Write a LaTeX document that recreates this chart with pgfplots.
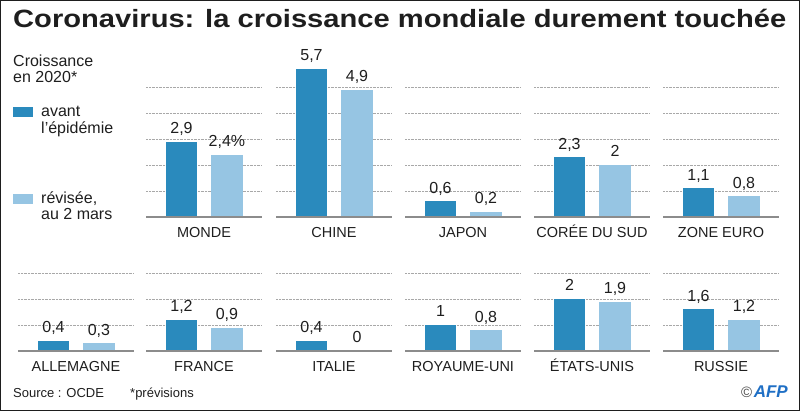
\documentclass[border=0pt]{standalone}
\usepackage{fontspec}
\setmainfont{Liberation Sans}
\usepackage{pgfplots}
\pgfplotsset{compat=1.18}
\definecolor{dark}{HTML}{2A8ABD}
\definecolor{light}{HTML}{96C5E3}
\definecolor{gridc}{HTML}{A8A8A8}
\definecolor{basec}{HTML}{8C8C8C}
\definecolor{txt}{HTML}{1E1E1E}
\definecolor{afp}{HTML}{1F6FC5}

\pgfplotsset{
  panel/.style={
    scale only axis, width=116pt,
    xmin=0.22, xmax=2.77, ymin=0,
    axis line style={draw=none},
    major tick length=0pt,
    xtick=\empty, ytick={1,2,3,4,5}, yticklabels={},
    ymajorgrids, grid style={gridc, densely dotted, line width=0.6pt},
    clip=false,
    anchor=south west,
  },
  bars/.style={
    ybar, bar width=31.5pt, bar shift=0pt, draw=none, fill=#1,
    point meta=explicit symbolic,
    nodes near coords,
    every node near coord/.append style={anchor=base, yshift=8pt, inner sep=0pt,
      font=\fontsize{16}{16}\selectfont, text=txt},
  },
}

% #1 x-left, #2 baseline (tikz y), #3 ymax, #4 height, #5 label,
% #6 dark value, #7 dark text, #8 light value, #9 light text
\newcommand\panel[9]{%
  \begin{axis}[panel, at={(#1pt,#2pt)}, ymax=#3, height=#4pt]
    \addplot[bars=dark] coordinates {(1,#6) [#7]};
    \addplot[bars=light] coordinates {(2,#8) [#9]};
    \draw[basec, line width=1.6pt] (rel axis cs:0,0) -- (rel axis cs:1,0);
    \node[font=\fontsize{14.5}{14.5}\selectfont, text=txt, anchor=base] at ([yshift=-21pt]rel axis cs:0.5,0) {#5};
  \end{axis}%
}

\begin{document}
\begin{tikzpicture}[x=1pt,y=1pt]
  \path[use as bounding box] (0,0) rectangle (800,411);
  \draw[txt, line width=1.4pt] (0.7,0.7) rectangle (799.3,410.3);

  % title
  \node[anchor=base west, inner sep=0pt, text=txt] at (13,383.5)
    {\scalebox{1.165}[1]{\fontsize{25}{25}\selectfont\bfseries Coronavirus: la croissance mondiale durement touchée}};

  % legend
  \node[anchor=base west, inner sep=0pt, text=txt, font=\fontsize{16}{16}\selectfont] at (13,344) {Croissance};
  \node[anchor=base west, inner sep=0pt, text=txt, font=\fontsize{16}{16}\selectfont] at (13,328.5) {en 2020*};
  \fill[dark] (12.7,293.7) rectangle (33.3,303.7);
  \node[anchor=base west, inner sep=0pt, text=txt, font=\fontsize{16}{16}\selectfont] at (41,294.3) {avant};
  \node[anchor=base west, inner sep=0pt, text=txt, font=\fontsize{16}{16}\selectfont] at (41,277.7) {l'épidémie};
  \fill[light] (12.7,207) rectangle (33.3,216.7);
  \node[anchor=base west, inner sep=0pt, text=txt, font=\fontsize{16}{16}\selectfont] at (41,207) {révisée,};
  \node[anchor=base west, inner sep=0pt, text=txt, font=\fontsize{16}{16}\selectfont] at (41,191) {au 2 mars};

  % row 1
  \panel{146}{194}{6}{156}{MONDE}{2.9}{2,9}{2.4}{2,4\%}
  \panel{276}{194}{6}{156}{CHINE}{5.7}{5,7}{4.9}{4,9}
  \panel{405}{194}{6}{156}{JAPON}{0.6}{0,6}{0.2}{0,2}
  \panel{534}{194}{6}{156}{CORÉE DU SUD}{2.3}{2,3}{2}{2}
  \panel{663}{194}{6}{156}{ZONE EURO}{1.1}{1,1}{0.8}{0,8}
  % row 2
  \panel{18}{60}{3}{78}{ALLEMAGNE}{0.4}{0,4}{0.3}{0,3}
  \panel{146}{60}{3}{78}{FRANCE}{1.2}{1,2}{0.9}{0,9}
  \panel{276}{60}{3}{78}{ITALIE}{0.4}{0,4}{0}{0}
  \panel{405}{60}{3}{78}{ROYAUME-UNI}{1}{1}{0.8}{0,8}
  \panel{534}{60}{3}{78}{ÉTATS-UNIS}{2}{2}{1.9}{1,9}
  \panel{663}{60}{3}{78}{RUSSIE}{1.6}{1,6}{1.2}{1,2}

  % footer
  \node[anchor=base west, inner sep=0pt, text=txt, font=\fontsize{13}{13}\selectfont] at (13,13) {Source : OCDE};
  \node[anchor=base west, inner sep=0pt, text=txt, font=\fontsize{13}{13}\selectfont] at (130,13) {*prévisions};
  \node[anchor=base east, inner sep=0pt] at (788,13)
    {\textcolor{txt!80}{\fontsize{15}{15}\selectfont ©}\,\textcolor{afp}{\fontsize{17}{17}\selectfont\bfseries\itshape AFP}};
\end{tikzpicture}
\end{document}
